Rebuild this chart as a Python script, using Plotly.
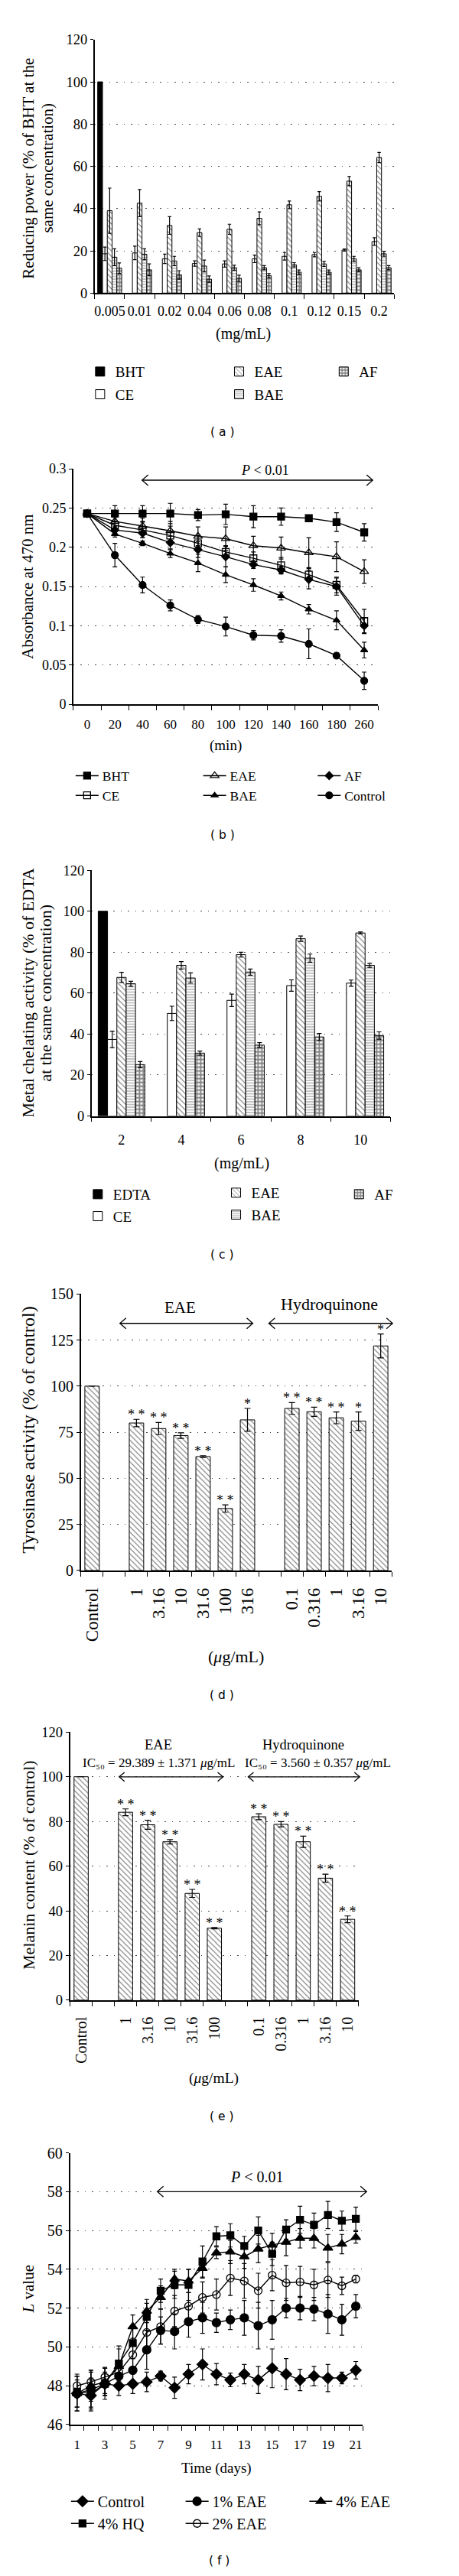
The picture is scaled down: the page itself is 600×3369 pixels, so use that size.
import plotly.graph_objects as go

W, H = 600, 3369
SERIF = "Liberation Serif, DejaVu Serif, Times New Roman, serif"
SANS = "DejaVu Sans, Verdana, sans-serif"

# ---------------- (a) reducing power ----------------
a_conc = ["0.005", "0.01", "0.02", "0.04", "0.06", "0.08", "0.1", "0.12", "0.15", "0.2"]
a_bht = [100, None, None, None, None, None, None, None, None, None]
a_ce = [18.6, 19.0, 16.2, 14.0, 13.8, 16.2, 17.4, 18.2, 20.4, 24.4]
a_ce_err = [3.2, 3.2, 2.2, 1.3, 1.5, 1.8, 1.8, 1.0, 0.5, 1.8]
a_eae = [39.0, 42.6, 32.0, 28.6, 30.2, 35.4, 41.8, 45.8, 53.0, 64.2]
a_eae_err = [10.7, 6.4, 4.2, 1.8, 2.4, 3.0, 1.8, 2.2, 2.2, 2.4]
a_bae = [17.0, 18.4, 15.2, 12.8, 12.0, 12.0, 13.4, 13.8, 16.2, 18.6]
a_bae_err = [4.0, 2.6, 2.2, 2.8, 1.2, 1.0, 1.0, 1.2, 1.2, 1.2]
a_af = [11.8, 11.0, 8.6, 6.6, 7.0, 8.2, 9.9, 9.9, 11.0, 12.0]
a_af_err = [2.5, 2.8, 2.0, 1.5, 1.5, 1.0, 1.0, 1.0, 1.0, 1.0]

# ---------------- (b) beta-carotene bleaching ----------------
b_time = ["0", "20", "40", "60", "80", "100", "120", "140", "160", "180", "260"]
b_bht = [0.243, 0.243, 0.243, 0.243, 0.241, 0.242, 0.239, 0.239, 0.237, 0.232, 0.219]
b_bht_err = [0.003, 0.010, 0.010, 0.013, 0.007, 0.013, 0.014, 0.011, 0.004, 0.012, 0.011]
b_ce = [0.243, 0.228, 0.222, 0.215, 0.205, 0.194, 0.186, 0.177, 0.165, 0.152, 0.106]
b_ce_err = [0.003, 0.010, 0.010, 0.012, 0.010, 0.008, 0.008, 0.010, 0.008, 0.010, 0.015]
b_eae = [0.243, 0.233, 0.227, 0.221, 0.214, 0.211, 0.202, 0.199, 0.193, 0.188, 0.169]
b_eae_err = [0.003, 0.010, 0.010, 0.012, 0.012, 0.015, 0.012, 0.014, 0.019, 0.019, 0.015]
b_bae = [0.243, 0.217, 0.205, 0.192, 0.180, 0.165, 0.152, 0.138, 0.121, 0.107, 0.069]
b_bae_err = [0.003, 0.004, 0.003, 0.005, 0.011, 0.010, 0.008, 0.005, 0.006, 0.012, 0.010]
b_af = [0.243, 0.222, 0.218, 0.206, 0.197, 0.188, 0.178, 0.171, 0.159, 0.150, 0.100]
b_af_err = [0.003, 0.005, 0.006, 0.008, 0.010, 0.013, 0.005, 0.005, 0.012, 0.011, 0.010]
b_ctrl = [0.243, 0.190, 0.152, 0.126, 0.108, 0.099, 0.088, 0.087, 0.077, 0.062, 0.030]
b_ctrl_err = [0.003, 0.015, 0.010, 0.007, 0.005, 0.012, 0.006, 0.008, 0.019, 0.003, 0.011]

# ---------------- (c) metal chelating ----------------
c_conc = ["2", "4", "6", "8", "10"]
c_edta = [100, None, None, None, None]
c_ce = [37.4, 50.1, 56.5, 63.7, 64.9]
c_ce_err = [4.0, 3.5, 3.0, 2.8, 1.5]
c_eae = [67.7, 73.6, 78.8, 86.6, 89.4]
c_eae_err = [2.5, 1.8, 1.2, 1.3, 0.5]
c_bae = [64.6, 67.4, 70.3, 77.1, 73.6]
c_bae_err = [1.2, 2.5, 1.5, 2.0, 1.0]
c_af = [25.1, 30.7, 34.6, 38.6, 39.3]
c_af_err = [1.5, 1.0, 1.2, 1.7, 1.8]

# ---------------- (d) tyrosinase activity ----------------
d_labels = ["Control", "", "1", "3.16", "10", "31.6", "100", "316", "", "0.1", "0.316", "1", "3.16", "10"]
d_vals = [100, None, 80.0, 77.0, 73.2, 61.8, 33.6, 81.7, None, 87.9, 86.1, 82.8, 81.0, 121.8]
d_err = [None, None, 2.0, 3.3, 1.5, 0.5, 2.0, 6.2, None, 3.2, 2.5, 3.2, 5.0, 6.5]
d_sig = ["", "", "* *", "* *", "* *", "* *", "* *", "*", "", "* *", "* *", "* *", "*", "*"]

# ---------------- (e) melanin content ----------------
e_labels = ["Control", "", "1", "3.16", "10", "31.6", "100", "", "0.1", "0.316", "1", "3.16", "10"]
e_vals = [100, None, 84.1, 78.5, 70.9, 47.8, 32.2, None, 82.1, 78.7, 70.9, 54.6, 36.2]
e_err = [None, None, 1.5, 2.0, 1.0, 1.8, 0.3, None, 1.3, 1.2, 2.5, 1.8, 1.5]
e_sig = ["", "", "* *", "* *", "* *", "* *", "* *", "", "* *", "* *", "* *", "* *", "* *"]

# ---------------- (f) L value ----------------
f_days = list(range(1, 22))
f_ctrl = [47.6, 47.5, 48.1, 48.0, 48.1, 48.2, 48.5, 47.9, 48.6, 49.1, 48.6, 48.3, 48.6, 48.3, 48.9, 48.6, 48.3, 48.5, 48.4, 48.4, 48.8]
f_ctrl_err = [0.7, 0.8, 0.5, 0.5, 0.5, 0.5, 0.25, 0.55, 0.5, 0.8, 0.55, 0.35, 0.5, 0.7, 1.0, 0.8, 0.55, 0.5, 0.7, 0.3, 0.45]
f_eae1 = [47.6, 47.8, 48.1, 48.5, 48.8, 49.85, 50.85, 50.8, 51.3, 51.5, 51.25, 51.4, 51.5, 51.1, 51.4, 52.0, 52.0, 51.95, 51.7, 51.4, 52.1]
f_eae1_err = [0.9, 0.9, 0.6, 0.6, 0.6, 1.0, 0.7, 0.9, 0.8, 0.8, 0.5, 0.5, 0.9, 1.2, 1.0, 0.5, 0.6, 0.6, 1.0, 0.8, 0.6]
f_eae2 = [48.0, 48.2, 48.45, 48.7, 49.6, 50.75, 51.05, 51.85, 52.1, 52.55, 52.7, 53.55, 53.4, 52.9, 53.7, 53.3, 53.35, 53.2, 53.45, 53.15, 53.5]
f_eae2_err = [0.6, 0.6, 0.5, 0.6, 0.7, 0.8, 0.9, 0.8, 0.7, 0.8, 0.8, 0.9, 0.9, 0.9, 0.8, 0.9, 0.8, 0.8, 0.9, 0.45, 0.2]
f_eae4 = [47.6, 48.0, 48.2, 49.0, 51.05, 51.85, 52.55, 53.5, 53.4, 54.05, 54.85, 54.9, 54.65, 55.05, 55.25, 55.4, 55.6, 55.6, 55.1, 55.3, 55.65]
f_eae4_err = [0.9, 0.8, 0.7, 0.9, 0.6, 0.6, 0.6, 0.5, 0.6, 0.5, 0.3, 0.6, 0.6, 0.7, 0.6, 0.7, 0.5, 0.5, 0.7, 0.5, 0.3]
f_hq4 = [47.7, 47.6, 48.1, 49.15, 50.2, 51.55, 52.9, 53.2, 53.2, 54.4, 55.7, 55.75, 55.2, 56.0, 54.8, 56.05, 56.55, 56.3, 56.8, 56.5, 56.6]
f_hq4_err = [0.8, 0.8, 0.8, 0.9, 0.8, 0.7, 0.6, 0.7, 0.8, 0.8, 0.5, 0.6, 0.5, 0.7, 0.6, 0.5, 0.7, 0.6, 0.7, 0.5, 0.6]

fig = go.Figure()

LINE = dict(color="black", width=1)
STYLE = {
    "solid": dict(color="black", line=LINE),
    "white": dict(color="white", line=LINE),
    "diag": dict(color="white", line=LINE,
                 pattern=dict(shape="\\", fgcolor="black", bgcolor="white", size=5, solidity=0.22)),
    "horiz": dict(color="white", line=LINE,
                  pattern=dict(shape="-", fgcolor="#707070", bgcolor="white", size=3.5, solidity=0.45)),
    "check": dict(color="white", line=LINE,
                  pattern=dict(shape="+", fgcolor="black", bgcolor="white", size=5, solidity=0.6)),
}


def err(arr, w):
    return dict(type="data", array=arr, visible=True, color="black", thickness=1.2, width=w)


def add_bars(suf, xs, series, frac, err_w):
    n = len(series)
    w = frac / n
    for k, (name, vals, errs, style, leg) in enumerate(series):
        tr = go.Bar(x=xs, y=vals, name=name, width=w, offset=-frac / 2 + k * w,
                    marker=STYLE[style], xaxis="x" + suf, yaxis="y" + suf,
                    showlegend=leg is not None, legend=leg or "legend", legendgroup=name + suf)
        if errs is not None:
            tr.error_y = err(errs, err_w)
        fig.add_trace(tr)


def add_lines(suf, xs, series):
    for name, vals, errs, sym, size, leg in series:
        fig.add_trace(go.Scatter(
            x=xs, y=vals, name=name, mode="lines+markers",
            line=dict(color="black", width=1.4),
            marker=dict(symbol=sym, size=size, color="black",
                        line=dict(color="black", width=1.3)),
            error_y=err(errs, 3), xaxis="x" + suf, yaxis="y" + suf,
            legend=leg, legendgroup=name + suf, cliponaxis=False))


# (a)
xa = list(range(len(a_conc)))
add_bars("", xa, [
    ("BHT", a_bht, None, "solid", "legend"),
    ("CE", a_ce, a_ce_err, "white", "legend"),
    ("EAE", a_eae, a_eae_err, "diag", "legend2"),
    ("BAE", a_bae, a_bae_err, "horiz", "legend2"),
    ("AF", a_af, a_af_err, "check", "legend3"),
], 0.8, 2.2)

# (b)
xb = list(range(len(b_time)))
add_lines("2", xb, [
    ("BHT", b_bht, b_bht_err, "square", 9, "legend4"),
    ("CE", b_ce, b_ce_err, "square-open", 9, "legend4"),
    ("EAE", b_eae, b_eae_err, "triangle-up-open", 10, "legend5"),
    ("BAE", b_bae, b_bae_err, "triangle-up", 8, "legend5"),
    ("AF", b_af, b_af_err, "diamond", 8, "legend6"),
    ("Control", b_ctrl, b_ctrl_err, "circle", 9, "legend6"),
])

# (c)
xc = list(range(len(c_conc)))
add_bars("3", xc, [
    ("EDTA", c_edta, None, "solid", "legend7"),
    ("CE", c_ce, c_ce_err, "white", "legend7"),
    ("EAE", c_eae, c_eae_err, "diag", "legend8"),
    ("BAE", c_bae, c_bae_err, "horiz", "legend8"),
    ("AF", c_af, c_af_err, "check", "legend9"),
], 0.78, 3)

# (d)
xd = list(range(len(d_labels)))
add_bars("4", xd, [("Tyrosinase", d_vals, d_err, "diag", None)], 0.65, 4)
# (e)
xe = list(range(len(e_labels)))
add_bars("5", xe, [("Melanin", e_vals, e_err, "diag", None)], 0.64, 4)

# (f)
add_lines("6", f_days, [
    ("Control", f_ctrl, f_ctrl_err, "diamond", 11, "legend10"),
    ("4% HQ", f_hq4, f_hq4_err, "square", 9, "legend10"),
    ("1% EAE", f_eae1, f_eae1_err, "circle", 11, "legend11"),
    ("2% EAE", f_eae2, f_eae2_err, "circle-open", 10, "legend11"),
    ("4% EAE", f_eae4, f_eae4_err, "triangle-up", 11, "legend12"),
])


# ---------------- axes ----------------
def xdom(x0, x1):
    return [x0 / W, x1 / W]


def ydom(top, bottom):
    return [1 - bottom / H, 1 - top / H]


def yax(dom, rng, dtick, fs, anchor):
    return dict(domain=dom, range=rng, dtick=dtick, tick0=rng[0], anchor=anchor,
                showline=True, linecolor="black", linewidth=1.5, mirror=False,
                ticks="outside", ticklen=4, tickwidth=1.2, tickcolor="black",
                showgrid=True, gridcolor="#444444", gridwidth=1, griddash="1.5px,8px",
                zeroline=False, fixedrange=True,
                tickfont=dict(family=SERIF, size=fs, color="black"))


def xax(dom, rng, xs, labels, bounds, fs, anchor, angle=0, standoff=4):
    vals = [x for x, t in zip(xs, labels) if t]
    texts = [t for t in labels if t]
    return dict(domain=dom, range=rng, anchor=anchor, tickmode="array",
                tickvals=vals, ticktext=texts, ticks="", tickangle=angle,
                ticklabelstandoff=standoff,
                showline=True, linecolor="black", linewidth=1.5, showgrid=False,
                zeroline=False, fixedrange=True,
                tickfont=dict(family=SERIF, size=fs, color="black"),
                minor=dict(tickmode="array", tickvals=bounds, ticks="outside",
                           ticklen=6, tickwidth=1.2, tickcolor="black", showgrid=False))


def bounds(n, start=-0.5):
    return [start + i for i in range(n + 1)]


f_ticklabels = [str(d) if d % 2 == 1 else "" for d in f_days]

layout = dict(
    width=W, height=H, margin=dict(l=0, r=0, t=0, b=0),
    paper_bgcolor="white", plot_bgcolor="white", barmode="overlay",
    font=dict(family=SERIF, color="black", size=18), hovermode=False,
)
layout["xaxis"] = xax(xdom(115, 507), [-0.5, 9.5], xa, a_conc, bounds(10), 18, "y", standoff=6)
layout["yaxis"] = yax(ydom(33, 366.7), [0, 120], 20, 18.5, "x")
layout["xaxis2"] = xax(xdom(87, 486), [-0.5, 10.5], xb, b_time, bounds(11), 17, "y2", standoff=10)
layout["yaxis2"] = yax(ydom(598, 908), [0, 0.3], 0.05, 18, "x2")
layout["xaxis3"] = xax(xdom(111, 502), [-0.5, 4.5], xc, c_conc, bounds(5), 18, "y3", standoff=14)
layout["yaxis3"] = yax(ydom(1126.6, 1450), [0, 120], 20, 18.5, "x3")
layout["xaxis4"] = xax(xdom(97, 504), [-0.5, 13.5], xd, d_labels, bounds(14), 23, "y4", angle=-90, standoff=12)
layout["yaxis4"] = yax(ydom(1684.3, 2048.3), [0, 150], 25, 20, "x4")
layout["xaxis5"] = xax(xdom(82.7, 460.7), [-0.5, 12.5], xe, e_labels, bounds(13), 20, "y5", angle=-90, standoff=12)
layout["yaxis5"] = yax(ydom(2261, 2614), [0, 120], 20, 18.5, "x5")
layout["xaxis6"] = xax(xdom(82.7, 466), [0.5, 21.5], f_days, f_ticklabels,
                       bounds(21, 0.5), 17, "y6", standoff=10)
layout["yaxis6"] = yax(ydom(2815, 3172.7), [46, 60], 2, 20, "x6")


def leg(xpx, ypx, fs, gap):
    return dict(x=xpx / W, y=1 - ypx / H, xanchor="left", yanchor="top", orientation="v",
                font=dict(family=SERIF, size=fs, color="black"), bgcolor="rgba(0,0,0,0)",
                borderwidth=0, traceorder="grouped", tracegroupgap=gap,
                itemclick=False, itemdoubleclick=False)


layout["legend"] = leg(102, 451, 19, 2)
layout["legend2"] = leg(284, 451, 19, 2)
layout["legend3"] = leg(421, 451, 19, 2)
layout["legend4"] = leg(85, 984, 17.5, 0)
layout["legend5"] = leg(252, 984, 17.5, 0)
layout["legend6"] = leg(402, 984, 17.5, 0)
layout["legend7"] = leg(99, 1534, 19, 1)
layout["legend8"] = leg(280, 1532, 19, 1)
layout["legend9"] = leg(441, 1534, 19, 1)
layout["legend10"] = leg(79, 3254, 20, 0)
layout["legend11"] = leg(229, 3254, 20, 0)
layout["legend12"] = leg(391, 3254, 20, 0)

fig.update_layout(**layout)


# ---------------- annotations ----------------
def note(text, xpx, ypx, size, family=SERIF, angle=0, xanchor="center"):
    fig.add_annotation(text=text, x=xpx / W, y=1 - ypx / H, xref="paper", yref="paper",
                       showarrow=False, xanchor=xanchor, yanchor="middle", textangle=angle,
                       font=dict(family=family, size=size, color="black"))


def darrow(x0, x1, ypx, hl=8, hh=7):
    y = 1 - ypx / H
    ln = dict(color="black", width=1.3)
    fig.add_shape(type="line", x0=x0 / W, x1=x1 / W, y0=y, y1=y,
                  xref="paper", yref="paper", line=ln)
    for xe, d in [(x0, 1), (x1, -1)]:
        path = "M{},{} L{},{} L{},{}".format(
            (xe + d * hl) / W, 1 - (ypx - hh) / H, xe / W, y, (xe + d * hl) / W, 1 - (ypx + hh) / H)
        fig.add_shape(type="path", path=path, xref="paper", yref="paper", line=ln)


# y titles (each line as its own text)
note("Reducing power (% of BHT at the", 28, 202, 21, angle=-90)
note("same concentration)", 53, 202, 21, angle=-90)
note("Absorbance at 470 nm", 27, 753, 21, angle=-90)
note("Metal chelating activity (% of EDTA", 28, 1288, 22, angle=-90)
note("at the same concentration)", 51, 1288, 22, angle=-90)
note("Tyrosinase activity (% of control)", 28, 1863, 24, angle=-90)
note("Melanin content (% of control)", 28, 2436, 22, angle=-90)
note("<i>L</i> value", 28, 2994, 21, angle=-90)

# x titles
note("(mg/mL)", 310, 420, 20)
note("(min)", 286, 962, 19)
note("(mg/mL)", 308, 1512, 20)
note("(<i>μ</i>g/mL)", 300, 2162, 22)
note("(<i>μ</i>g/mL)", 271, 2717, 19.5)
note("Time (days)", 274, 3230, 19)

# panel labels
for lab, xp, yp in [("( a )", 282, 550), ("( b )", 282, 1080), ("( c )", 281, 1633),
                    ("( d )", 281, 2212), ("( e )", 281, 2767), ("( f )", 278, 3352)]:
    note(lab, xp, yp, 15.5, family=SANS)

# (b) significance
note("<i>P</i> &lt; 0.01", 338, 600, 18)
darrow(177, 479, 613)

# (d) group labels
note("EAE", 227, 1702, 21)
darrow(148, 322, 1723)
note("Hydroquinone", 422, 1698, 22)
darrow(343, 505, 1723)

# (e) group labels
note("EAE", 198, 2278, 18.5)
note("IC\u2085\u2080 = 29.389 ± 1.371 <i>μ</i>g/mL", 199, 2302, 17)
darrow(147, 283, 2320, 7, 6)
note("Hydroquinone", 388, 2278, 18.5)
note("IC\u2085\u2080 = 3.560 ± 0.357 <i>μ</i>g/mL", 407, 2302, 17)
darrow(316, 462, 2320, 7, 6)

# (f) significance
note("<i>P</i> &lt; 0.01", 328, 2847, 20)
darrow(197, 471, 2866)

# asterisks (d), (e)
for suf, xs, vals, errs, sig in [("4", xd, d_vals, d_err, d_sig), ("5", xe, e_vals, e_err, e_sig)]:
    for x, v, e, s in zip(xs, vals, errs, sig):
        if s and v is not None:
            fig.add_annotation(text=s, x=x, y=v + (e or 0), xref="x" + suf, yref="y" + suf,
                               showarrow=False, yanchor="bottom", yshift=-6,
                               font=dict(family=SERIF, size=18, color="black"))

fig.write_html("out.html")
